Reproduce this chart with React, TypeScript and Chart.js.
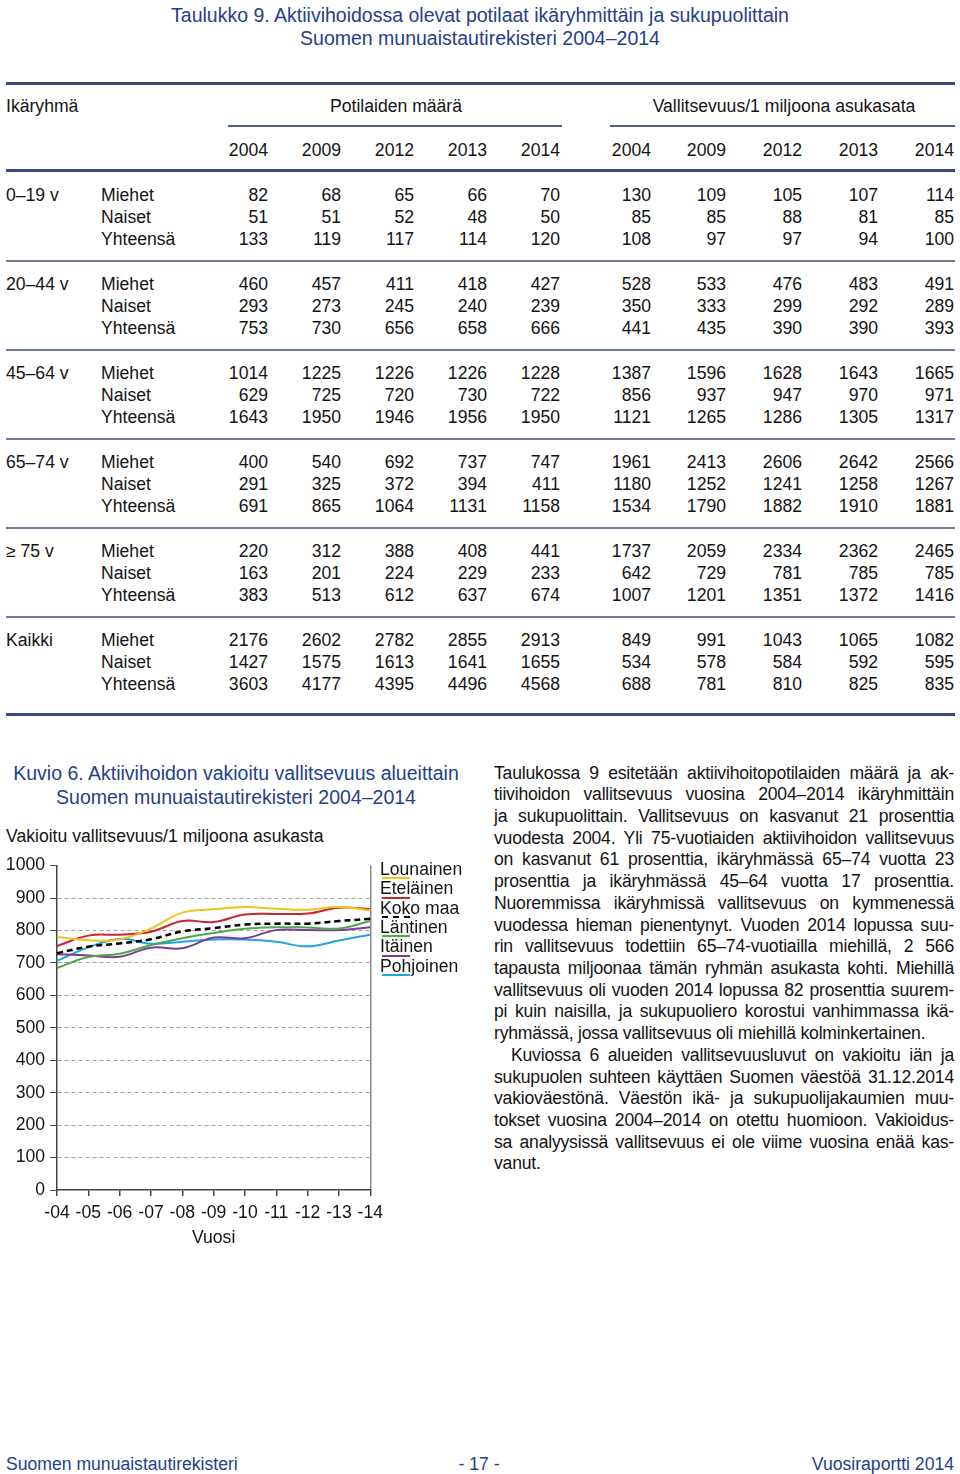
import React, { useEffect, useRef } from 'react';
import { Chart, registerables } from 'chart.js';

Chart.register(...registerables);

// ---------- Chart data ----------
const yearLabels = ['-04', '-05', '-06', '-07', '-08', '-09', '-10', '-11', '-12', '-13', '-14'];
const lounainen = [780, 770, 772, 806, 855, 865, 872, 867, 864, 872, 862];
const etelainen = [752, 784, 787, 796, 829, 826, 849, 851, 852, 870, 866];
const kokoMaa = [730, 750, 760, 773, 797, 807, 818, 821, 821, 829, 836];
const lantinen = [684, 718, 728, 755, 776, 792, 805, 810, 809, 806, 829];
const itainen = [727, 723, 719, 747, 745, 778, 776, 801, 801, 801, 810];
const pohjoinen = [706, 748, 774, 759, 765, 772, 772, 765, 751, 769, 787];
const seriesNames = ['Lounainen', 'Eteläinen', 'Koko maa', 'Läntinen', 'Itäinen', 'Pohjoinen'];
const seriesColors = ['#f2c31a', '#c8262f', '#000000', '#4ea84a', '#7a3c99', '#1fa6e0'];
const yTicks = [0, 100, 200, 300, 400, 500, 600, 700, 800, 900, 1000];

// ---------- Table data ----------
const tableTitle1 = 'Taulukko 9. Aktiivihoidossa olevat potilaat ikäryhmittäin ja sukupuolittain';
const tableTitle2 = 'Suomen munuaistautirekisteri 2004–2014';
const tableYears = ['2004', '2009', '2012', '2013', '2014'];
const ageGroups = ['0–19 v', '20–44 v', '45–64 v', '65–74 v', '≥ 75 v', 'Kaikki'];
const sexes = ['Miehet', 'Naiset', 'Yhteensä'];
const patients = [
  [82, 68, 65, 66, 70], [51, 51, 52, 48, 50], [133, 119, 117, 114, 120],
  [460, 457, 411, 418, 427], [293, 273, 245, 240, 239], [753, 730, 656, 658, 666],
  [1014, 1225, 1226, 1226, 1228], [629, 725, 720, 730, 722], [1643, 1950, 1946, 1956, 1950],
  [400, 540, 692, 737, 747], [291, 325, 372, 394, 411], [691, 865, 1064, 1131, 1158],
  [220, 312, 388, 408, 441], [163, 201, 224, 229, 233], [383, 513, 612, 637, 674],
  [2176, 2602, 2782, 2855, 2913], [1427, 1575, 1613, 1641, 1655], [3603, 4177, 4395, 4496, 4568],
];
const prevalence = [
  [130, 109, 105, 107, 114], [85, 85, 88, 81, 85], [108, 97, 97, 94, 100],
  [528, 533, 476, 483, 491], [350, 333, 299, 292, 289], [441, 435, 390, 390, 393],
  [1387, 1596, 1628, 1643, 1665], [856, 937, 947, 970, 971], [1121, 1265, 1286, 1305, 1317],
  [1961, 2413, 2606, 2642, 2566], [1180, 1252, 1241, 1258, 1267], [1534, 1790, 1882, 1910, 1881],
  [1737, 2059, 2334, 2362, 2465], [642, 729, 781, 785, 785], [1007, 1201, 1351, 1372, 1416],
  [849, 991, 1043, 1065, 1082], [534, 578, 584, 592, 595], [688, 781, 810, 825, 835],
];

const paragraph1 = [
  'Taulukossa 9 esitetään aktiivihoitopotilaiden määrä ja ak-',
  'tiivihoidon vallitsevuus vuosina 2004–2014 ikäryhmittäin',
  'ja sukupuolittain. Vallitsevuus on kasvanut 21 prosenttia',
  'vuodesta 2004. Yli 75-vuotiaiden aktiivihoidon vallitsevuus',
  'on kasvanut 61 prosenttia, ikäryhmässä 65–74 vuotta 23',
  'prosenttia ja ikäryhmässä 45–64 vuotta 17 prosenttia.',
  'Nuoremmissa ikäryhmissä vallitsevuus on kymmenessä',
  'vuodessa hieman pienentynyt. Vuoden 2014 lopussa suu-',
  'rin vallitsevuus todettiin 65–74-vuotiailla miehillä, 2 566',
  'tapausta miljoonaa tämän ryhmän asukasta kohti. Miehillä',
  'vallitsevuus oli vuoden 2014 lopussa 82 prosenttia suurem-',
  'pi kuin naisilla, ja sukupuoliero korostui vanhimmassa ikä-',
  'ryhmässä, jossa vallitsevuus oli miehillä kolminkertainen.',
];
const paragraph2 = [
  'Kuviossa 6 alueiden vallitsevuusluvut on vakioitu iän ja',
  'sukupuolen suhteen käyttäen Suomen väestöä 31.12.2014',
  'vakioväestönä. Väestön ikä- ja sukupuolijakaumien muu-',
  'tokset vuosina 2004–2014 on otettu huomioon. Vakioidus-',
  'sa analyysissä vallitsevuus ei ole viime vuosina enää kas-',
  'vanut.',
];

const FONT = '"Liberation Sans", Arial, Helvetica, sans-serif';
const BLUE = '#25408a';
const TXT = '#141414';
const FS = 17.6;

const patCols = [268, 341, 414, 487, 560];
const prevCols = [651, 726, 802, 878, 954];

function T(props: { x?: number; r?: number; cx?: number; cy: number; size?: number; color?: string; children: React.ReactNode; w?: number }) {
  const size = props.size ?? FS;
  const lh = Math.round(size * 1.25);
  const style: React.CSSProperties = {
    position: 'absolute',
    top: props.cy - lh / 2 + 0.5,
    lineHeight: lh + 'px',
    fontSize: size,
    color: props.color ?? TXT,
    whiteSpace: 'nowrap',
  };
  if (props.r !== undefined) {
    style.right = 960 - props.r;
    style.textAlign = 'right';
  } else if (props.cx !== undefined) {
    const w = props.w ?? 900;
    style.left = props.cx - w / 2;
    style.width = w;
    style.textAlign = 'center';
  } else {
    style.left = props.x;
  }
  return <div style={style}>{props.children}</div>;
}

function HLine(props: { x1: number; x2: number; y: number; h: number; color: string }) {
  return (
    <div
      style={{
        position: 'absolute',
        left: props.x1,
        width: props.x2 - props.x1,
        top: props.y - props.h / 2,
        height: props.h,
        background: props.color,
      }}
    />
  );
}

function RegionChart() {
  const ref = useRef<HTMLCanvasElement>(null);
  useEffect(() => {
    const all = [lounainen, etelainen, kokoMaa, lantinen, itainen, pohjoinen];
    const tickFont = { family: FONT, size: FS };
    const chart = new Chart(ref.current as HTMLCanvasElement, {
      type: 'line',
      data: {
        labels: yearLabels,
        datasets: all.map((d, i) => ({
          label: seriesNames[i],
          data: d,
          borderColor: seriesColors[i],
          backgroundColor: seriesColors[i],
          borderWidth: i === 2 ? 2.5 : 2,
          borderDash: i === 2 ? [6, 4] : [],
          pointRadius: 0,
          tension: 0.4,
          fill: false,
          order: i === 2 ? 0 : 1,
        })),
      },
      options: {
        responsive: false,
        animation: false,
        devicePixelRatio: 1,
        layout: { padding: { top: 14, right: 18, bottom: 0, left: 0 } },
        plugins: { legend: { display: false }, tooltip: { enabled: false } },
        scales: {
          x: {
            afterFit: (s: any) => {
              s.height = 59;
            },
            grid: {
              color: (ctx: any) => (ctx.index === yearLabels.length - 1 ? '#8a8a8a' : 'rgba(0,0,0,0)'),
              tickColor: '#444',
              tickLength: 6,
              lineWidth: 1.5,
              drawOnChartArea: true,
            },
            border: { color: '#444', width: 1.5 },
            ticks: { font: tickFont, color: TXT, padding: 7, maxRotation: 0, autoSkip: false },
            title: {
              display: true,
              text: 'Vuosi',
              font: tickFont,
              color: TXT,
              padding: { top: 2, bottom: 0 },
            },
          },
          y: {
            min: 0,
            max: 1000,
            afterFit: (s: any) => {
              s.width = 57;
            },
            afterBuildTicks: (s: any) => {
              s.ticks = yTicks.map((v) => ({ value: v }));
            },
            ticks: { font: tickFont, color: TXT, padding: 5, callback: (v: any) => String(v) },
            grid: {
              color: (ctx: any) =>
                ctx.tick && (ctx.tick.value === 0 || ctx.tick.value === 1000) ? 'rgba(0,0,0,0)' : '#a0a0a0',
              tickColor: '#444',
              tickLength: 7,
              lineWidth: 1,
            },
            border: { color: '#444', width: 1.5, dash: [4, 3] },
          },
        },
      },
    } as any);
    return () => chart.destroy();
  }, []);
  return (
    <canvas
      ref={ref}
      width={390}
      height={399}
      style={{ position: 'absolute', left: 0, top: 850, width: 390, height: 399 }}
    />
  );
}

export default function App() {
  const legendY = [868, 887.5, 907, 926, 945.5, 965];
  return (
    <div
      style={{
        position: 'absolute',
        left: 0,
        top: 0,
        width: 960,
        height: 1474,
        overflow: 'hidden',
        background: '#fff',
        fontFamily: FONT,
      }}
    >
      {/* Table title */}
      <T cx={480} cy={14} size={19.5} color={BLUE}>{tableTitle1}</T>
      <T cx={480} cy={37} size={19.5} color={BLUE}>{tableTitle2}</T>

      {/* Table lines */}
      <HLine x1={6} x2={955} y={83} h={3} color="#3a4a7e" />
      <HLine x1={228} x2={562} y={126} h={2} color="#52608c" />
      <HLine x1={610} x2={955} y={126} h={2} color="#52608c" />
      <HLine x1={6} x2={955} y={170} h={3} color="#3a4a7e" />
      {[1, 2, 3, 4, 5].map((g) => (
        <HLine key={g} x1={6} x2={955} y={194 + g * 89 - 22.5} h={2} color="#6f7b96" />
      ))}
      <HLine x1={6} x2={955} y={714} h={3} color="#3a4a7e" />

      {/* Table headers */}
      <T x={6} cy={105}>Ikäryhmä</T>
      <T cx={396} w={300} cy={105}>Potilaiden määrä</T>
      <T cx={784} w={340} cy={105}>Vallitsevuus/1 miljoona asukasata</T>
      {tableYears.map((y, i) => (
        <T key={'py' + i} r={patCols[i]} cy={149}>{y}</T>
      ))}
      {tableYears.map((y, i) => (
        <T key={'vy' + i} r={prevCols[i]} cy={149}>{y}</T>
      ))}

      {/* Table body */}
      {ageGroups.map((ag, g) => {
        const base = 194 + g * 89;
        return (
          <React.Fragment key={'g' + g}>
            <T x={6} cy={base}>{ag}</T>
            {sexes.map((s, k) => {
              const row = g * 3 + k;
              const cy = base + k * 22;
              return (
                <React.Fragment key={'r' + row}>
                  <T x={101} cy={cy}>{s}</T>
                  {patients[row].map((v, c) => (
                    <T key={'p' + c} r={patCols[c]} cy={cy}>{v}</T>
                  ))}
                  {prevalence[row].map((v, c) => (
                    <T key={'v' + c} r={prevCols[c]} cy={cy}>{v}</T>
                  ))}
                </React.Fragment>
              );
            })}
          </React.Fragment>
        );
      })}

      {/* Figure title */}
      <T cx={236} w={470} cy={772} size={19.5} color={BLUE}>Kuvio 6. Aktiivihoidon vakioitu vallitsevuus alueittain</T>
      <T cx={236} w={470} cy={796} size={19.5} color={BLUE}>Suomen munuaistautirekisteri 2004–2014</T>
      <T x={6} cy={835}>Vakioitu vallitsevuus/1 miljoona asukasta</T>

      <RegionChart />

      {/* Legend */}
      {seriesNames.map((n, i) => (
        <React.Fragment key={'l' + i}>
          <T x={380} cy={legendY[i]}>{n}</T>
          <div
            style={
              i === 2
                ? {
                    position: 'absolute',
                    left: 382,
                    top: legendY[i] + 9,
                    width: 28,
                    height: 0,
                    borderTop: '2px dashed #000',
                  }
                : {
                    position: 'absolute',
                    left: 382,
                    top: legendY[i] + 9,
                    width: 28,
                    height: 2,
                    background: seriesColors[i],
                  }
            }
          />
        </React.Fragment>
      ))}

      {/* Body text */}
      {paragraph1.concat(paragraph2).map((line, i) => {
        const last = i === paragraph1.length - 1 || i === paragraph1.length + paragraph2.length - 1;
        const indent = i === paragraph1.length ? 17 : 0;
        const lh = 22;
        return (
          <div
            key={'t' + i}
            style={{
              position: 'absolute',
              left: 494 + indent,
              width: 460 - indent,
              top: 772 + i * 21.72 - lh / 2 + 0.5,
              lineHeight: lh + 'px',
              fontSize: FS,
              letterSpacing: -0.2,
              color: TXT,
              textAlign: 'justify',
              textAlignLast: last ? 'left' : 'justify',
            }}
          >
            {line}
          </div>
        );
      })}

      {/* Footer */}
      <T x={6} cy={1463} color={BLUE}>Suomen munuaistautirekisteri</T>
      <T cx={479} w={200} cy={1463} color={BLUE}>- 17 -</T>
      <T r={954} cy={1463} color={BLUE}>Vuosiraportti 2014</T>
    </div>
  );
}
